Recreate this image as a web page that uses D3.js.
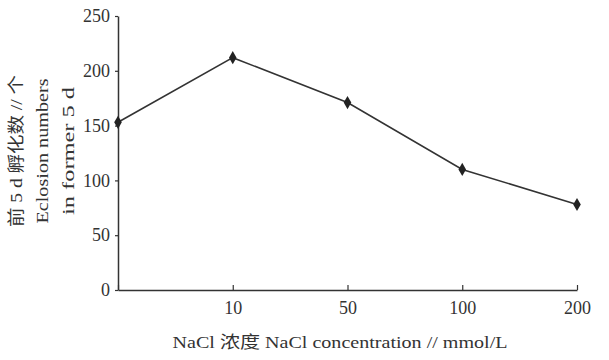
<!DOCTYPE html>
<html>
<head>
<meta charset="utf-8">
<script src="https://cdn.jsdelivr.net/npm/d3@7"></script>
<style>
  body { margin: 0; background: #fff; }
  text { font-family: "Liberation Serif", "Noto Sans CJK SC", serif; fill: #333; }
</style>
</head>
<body>
<div id="chart"></div>
<script>
// data
var concentrations = ["0", "10", "50", "100", "200"];
var eclosion = [153, 212, 171, 110, 78];
var yTicks = [0, 50, 100, 150, 200, 250];
var yLabelLines = ["前 5 d 孵化数 // 个", "Eclosion numbers", "in former 5 d"];
var xLabel = "NaCl 浓度 NaCl concentration // mmol/L";

var W = 609, H = 360;
var margin = {top: 16, right: 32, bottom: 70, left: 118};

var svg = d3.select("#chart")
  .append("svg")
  .attr("width", W)
  .attr("height", H);

var x = d3.scalePoint()
  .domain(concentrations)
  .range([margin.left, W - margin.right]);

var y = d3.scaleLinear()
  .domain([0, 250])
  .range([H - margin.bottom, margin.top]);

// x axis, ticks pointing inward, no label at the origin
var xAxis = svg.append("g")
  .attr("transform", "translate(0," + y(0) + ")")
  .call(d3.axisBottom(x)
    .tickSizeInner(-5)
    .tickSizeOuter(0)
    .tickPadding(11)
    .tickFormat(function(d) { return d === "0" ? "" : d; }));

// y axis
var yAxis = svg.append("g")
  .attr("transform", "translate(" + margin.left + ",0)")
  .call(d3.axisLeft(y)
    .tickValues(yTicks)
    .tickSizeInner(3)
    .tickSizeOuter(0)
    .tickPadding(5));

[xAxis, yAxis].forEach(function(g) {
  g.select(".domain").attr("stroke", "#333").attr("stroke-width", 1.5);
  g.selectAll(".tick line").attr("stroke", "#333").attr("stroke-width", 1.2);
  g.selectAll(".tick text")
    .style("font-family", "'Liberation Serif', serif")
    .style("font-size", "18px")
    .attr("fill", "#333");
});

// the series line
var line = d3.line()
  .x(function(d, i) { return x(concentrations[i]); })
  .y(function(d) { return y(d); });

svg.append("path")
  .datum(eclosion)
  .attr("d", line)
  .attr("fill", "none")
  .attr("stroke", "#333")
  .attr("stroke-width", 1.6);

// diamond markers
svg.selectAll(".pt")
  .data(eclosion)
  .enter()
  .append("path")
  .attr("class", "pt")
  .attr("transform", function(d, i) {
    return "translate(" + x(concentrations[i]) + "," + y(d) + ")";
  })
  .attr("d", d3.symbol().type(d3.symbolDiamond).size(50))
  .attr("fill", "#222");

// y axis title, three rotated lines
var yLineX = [16, 42, 68];
var yLineLen = [152, 145, 128];
svg.selectAll(".ytitle")
  .data(yLabelLines)
  .enter()
  .append("text")
  .attr("class", "ytitle")
  .attr("transform", function(d, i) { return "translate(" + yLineX[i] + ",151) rotate(-90)"; })
  .attr("text-anchor", "middle")
  .attr("dy", "0.35em")
  .attr("textLength", function(d, i) { return yLineLen[i]; })
  .attr("lengthAdjust", "spacingAndGlyphs")
  .style("font-size", "17px")
  .text(function(d) { return d; });

// x axis title
svg.append("text")
  .attr("x", 340)
  .attr("y", 348)
  .attr("text-anchor", "middle")
  .attr("textLength", 335)
  .attr("lengthAdjust", "spacingAndGlyphs")
  .style("font-size", "17px")
  .text(xLabel);
</script>
</body>
</html>
